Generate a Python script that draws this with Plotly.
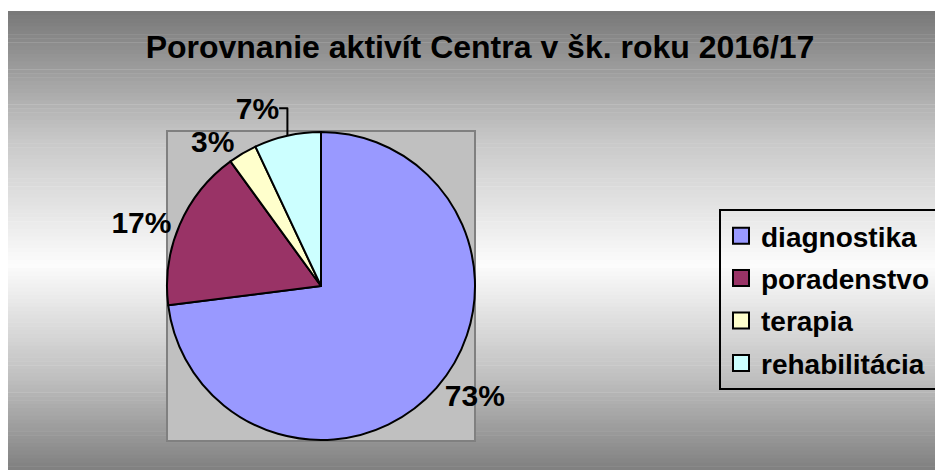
import plotly.graph_objects as go

# ---- data ----
labels = ["diagnostika", "poradenstvo", "terapia", "rehabilitácia"]
values = [73, 17, 3, 7]
colors = ["#9999FF", "#993366", "#FFFFCC", "#CCFFFF"]
title_text = "Porovnanie aktivít Centra v šk. roku 2016/17"

W, H = 943, 470
OFF = 8  # page body margin: figure is drawn 8px right/down in the window
FONT = "Liberation Sans, Arial, sans-serif"


def py(v):
    # v = window pixel (reference coordinates), returns paper fraction
    return 1 - (v - OFF) / H


def px(v):
    return (v - OFF) / W


shapes = []
shapes.append(dict(type="rect", xref="paper", yref="paper", x0=0, x1=1, y0=0, y1=1,
                   fillcolor="white", line=dict(width=0), layer="below"))
# vertical gradient background (gray -> white -> gray)
stops = [(11, 120), (140, 200), (265, 252), (380, 190), (478, 122)]
y_top, y_bot = 11, 478
n = 120
for i in range(n):
    a = y_top + (y_bot - y_top) * i / n
    b = y_top + (y_bot - y_top) * (i + 1) / n
    m = (a + b) / 2
    c = stops[-1][1]
    for (p0, c0), (p1, c1) in zip(stops[:-1], stops[1:]):
        if p0 <= m <= p1:
            c = c0 + (c1 - c0) * (m - p0) / (p1 - p0)
            break
    c = int(round(c))
    shapes.append(dict(type="rect", xref="paper", yref="paper",
                       x0=px(7), x1=1.01, y0=py(b) - 0.001, y1=py(a),
                       fillcolor=f"rgb({c},{c},{c})", line=dict(width=0), layer="below"))
# plot area square
shapes.append(dict(type="rect", xref="paper", yref="paper",
                   x0=px(167), x1=px(475), y0=py(441), y1=py(131),
                   fillcolor="#C0C0C0", line=dict(color="#808080", width=2), layer="below"))

fig = go.Figure()
fig.add_trace(go.Pie(
    labels=labels, values=values, sort=False, direction="clockwise", rotation=0,
    marker=dict(colors=colors, line=dict(color="black", width=2)),
    textinfo="percent", textposition="outside",
    texttemplate="%{percent:.0%}",
    textfont=dict(family=FONT, size=30, color="black", weight="bold"),
    domain=dict(x=[px(167), px(475)], y=[py(441), py(131)]),
    showlegend=False, hoverinfo="label+percent",
))
for lab, col in zip(labels, colors):
    fig.add_trace(go.Scatter(
        x=[None], y=[None], mode="markers", name=lab, legendgroup=lab,
        marker=dict(symbol="square", size=16, color=col, line=dict(color="black", width=2)),
        showlegend=True,
    ))

fig.update_layout(
    width=W, height=H,
    margin=dict(l=0, r=0, t=0, b=0),
    paper_bgcolor="white", plot_bgcolor="rgba(0,0,0,0)",
    xaxis=dict(visible=False), yaxis=dict(visible=False),
    shapes=shapes,
    title=dict(text=title_text, x=px(480), xanchor="center", y=py(47), yanchor="middle",
               font=dict(family=FONT, size=32, color="black", weight="bold")),
    legend=dict(x=px(719), y=py(209), xanchor="left", yanchor="top",
                bgcolor="rgba(0,0,0,0)", bordercolor="black", borderwidth=2,
                font=dict(family=FONT, size=28, color="black", weight="bold"),
                tracegroupgap=3, itemclick=False, itemdoubleclick=False),
)

fig.write_html("out.html")
